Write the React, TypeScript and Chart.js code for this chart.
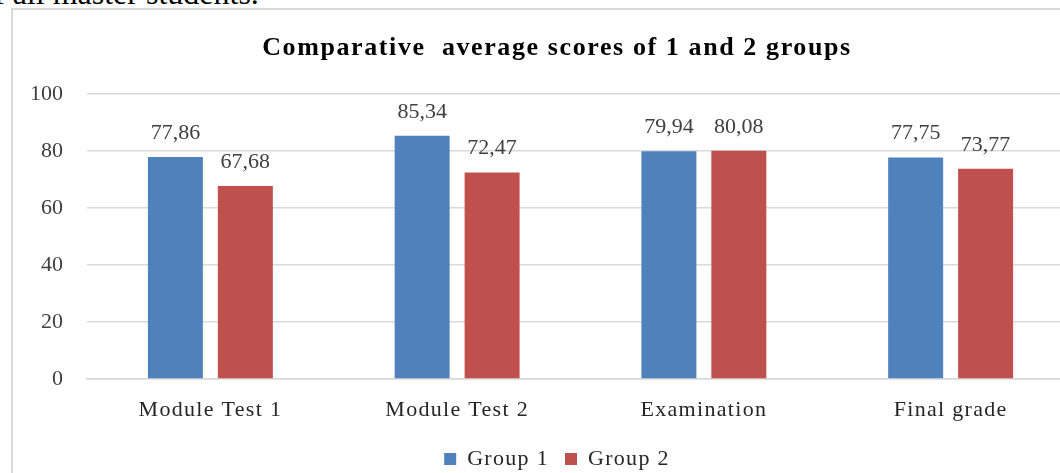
import React, { useEffect, useRef } from "react";
import { Chart, registerables } from "chart.js";

Chart.register(...registerables);

const categories = ["Module Test 1", "Module Test 2", "Examination", "Final grade"];
const group1 = [77.86, 85.34, 79.94, 77.75];
const group2 = [67.68, 72.47, 80.08, 73.77];
const seriesNames = ["Group 1", "Group 2"];
const yMin = 0;
const yMax = 100;
const yStep = 20;

const SERIF = '"Liberation Serif", "Times New Roman", serif';
const TEXT_SPACING = "1.3px";
const TITLE_SPACING = "1.6px";

const dataLabels = {
  id: "dataLabels",
  afterDatasetsDraw(chart: any) {
    const ctx = chart.ctx;
    ctx.save();
    ctx.letterSpacing = "0px";
    ctx.font = `22px ${SERIF}`;
    ctx.fillStyle = "#404040";
    ctx.textAlign = "center";
    ctx.textBaseline = "alphabetic";
    chart.data.datasets.forEach((ds: any, di: number) => {
      const meta = chart.getDatasetMeta(di);
      meta.data.forEach((bar: any, i: number) => {
        const v = ds.data[i] as number;
        ctx.fillText(v.toFixed(2).replace(".", ","), bar.x, bar.y - 18);
      });
    });
    ctx.restore();
  },
};

const spacing = {
  id: "spacing",
  beforeLayout(chart: any) {
    chart.ctx.letterSpacing = TEXT_SPACING;
  },
  beforeDraw(chart: any) {
    const ctx = chart.ctx;
    ctx.letterSpacing = TEXT_SPACING;
    const y = chart.scales.y;
    if (y && !y.__wrapped) {
      const orig = y.drawLabels.bind(y);
      y.drawLabels = (a: any) => {
        ctx.letterSpacing = "0px";
        orig(a);
        ctx.letterSpacing = TEXT_SPACING;
      };
      y.__wrapped = true;
    }
    const t = chart.titleBlock;
    if (t && !t.__wrapped) {
      const origT = t.draw.bind(t);
      t.draw = (...args: any[]) => {
        ctx.letterSpacing = TITLE_SPACING;
        origT(...args);
        ctx.letterSpacing = TEXT_SPACING;
      };
      t.__wrapped = true;
    }
  },
};

export default function App() {
  const ref = useRef<HTMLCanvasElement>(null);
  useEffect(() => {
    const chart = new Chart(ref.current!, {
      type: "bar",
      data: {
        labels: categories,
        datasets: [
          { label: seriesNames[0], data: group1, backgroundColor: "#4F81BD" },
          { label: seriesNames[1], data: group2, backgroundColor: "#C0504D" },
        ],
      },
      options: {
        responsive: false,
        animation: false,
        layout: { padding: { left: 0, right: 0, top: 0, bottom: -7 } },
        datasets: {
          bar: { categoryPercentage: 0.567, barPercentage: 0.786 },
        } as any,
        scales: {
          x: {
            grid: { display: false, drawTicks: false },
            border: { display: true, color: "#d9d9d9", width: 1.5 },
            ticks: { color: "#262626", font: { family: SERIF, size: 22 }, padding: 18 },
            afterFit: (s: any) => {
              s.height = 53;
            },
          },
          y: {
            min: yMin,
            max: yMax,
            grid: { color: "#d9d9d9", lineWidth: 1.5, drawTicks: false },
            border: { display: false },
            ticks: { stepSize: yStep, color: "#404040", font: { family: SERIF, size: 22 }, padding: 24 },
            afterFit: (s: any) => {
              s.width = 87;
            },
          },
          y2: {
            position: "right",
            display: true,
            grid: { display: false, drawTicks: false },
            border: { display: false },
            ticks: { display: false },
            afterFit: (s: any) => {
              s.width = 40;
            },
          },
        },
        plugins: {
          title: {
            display: true,
            text: "Comparative  average scores of 1 and 2 groups",
            color: "#000",
            font: { family: SERIF, size: 26, weight: "bold", lineHeight: 1.2 },
            padding: { top: 33, bottom: 29.8 },
          },
          legend: {
            position: "bottom",
            labels: {
              color: "#262626",
              font: { family: SERIF, size: 22 },
              boxWidth: 12,
              boxHeight: 12,
              padding: 16,
            },
          },
          tooltip: { enabled: false },
        },
      },
      plugins: [spacing, dataLabels],
    });
    chart.draw();
    return () => chart.destroy();
  }, []);

  return (
    <div style={{ position: "fixed", left: 0, top: 0, width: 1060, height: 473, overflow: "hidden", background: "#fff" }}>
      <div
        style={{
          position: "absolute",
          left: -22,
          top: -23,
          fontFamily: SERIF,
          fontSize: 32,
          lineHeight: "32px",
          whiteSpace: "nowrap",
          color: "#000",
        }}
      >
        of all master students.
      </div>
      <div
        style={{
          position: "absolute",
          left: 11,
          top: 8,
          width: 1200,
          height: 600,
          border: "2px solid #d9d9d9",
        }}
      />
      <canvas ref={ref} width={1114} height={473} style={{ position: "absolute", left: 0, top: 0 }} />
    </div>
  );
}
